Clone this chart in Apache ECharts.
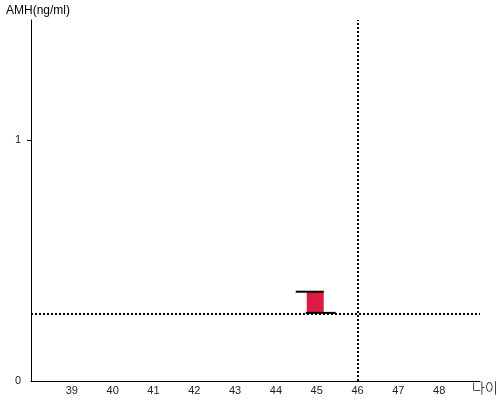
<!DOCTYPE html>
<html>
<head>
<meta charset="utf-8">
<script src="https://cdn.jsdelivr.net/npm/echarts@6/dist/echarts.min.js"></script>
<style>html,body{margin:0;padding:0;background:#fff}#c{width:500px;height:400px}</style>
</head>
<body>
<div id="c"></div>
<script>
// Data
var ages = [45];
var amhLow = [0.283];
var amhHigh = [0.371];
var refAge = 46;
var refAmh = 0.283;
var xTickLabels = [39, 40, 41, 42, 43, 44, 45, 46, 47, 48];
var yTickLabels = [0, 1];

var chart = echarts.init(document.getElementById('c'), null, {renderer: 'canvas'});
var data = ages.map(function (a, i) { return [a, amhLow[i], amhHigh[i]]; });

chart.setOption({
  animation: false,
  grid: {left: 31, right: 20, top: 20, bottom: 19, containLabel: false, outerBoundsMode: 'none'},
  xAxis: {
    type: 'value', min: 38, max: 49, interval: 1,
    name: '나이', nameLocation: 'end', nameGap: -8,
    nameTextStyle: {fontFamily: 'Noto Sans CJK KR', fontSize: 14, color: '#000', align: 'left', verticalAlign: 'top', padding: [0, 0, 0, 0], fontWeight: 300},
    axisLine: {lineStyle: {color: '#000', width: 1}},
    axisTick: {show: false},
    splitLine: {show: false},
    axisLabel: {customValues: xTickLabels, margin: 4, color: '#222', fontSize: 11, fontFamily: 'Liberation Sans'}
  },
  yAxis: {
    type: 'value', min: 0, max: 1.5, interval: 0.5,
    name: 'AMH(ng/ml)', nameLocation: 'end', nameGap: 3,
    nameTextStyle: {fontFamily: 'Liberation Sans', fontSize: 12, color: '#000', align: 'center', padding: [0, 0, 0, 14]},
    axisLine: {show: true, lineStyle: {color: '#000', width: 1}},
    axisTick: {show: true, customValues: [1], length: 4, lineStyle: {color: '#000'}},
    splitLine: {show: false},
    axisLabel: {customValues: yTickLabels, margin: 10, color: '#222', fontSize: 11, fontFamily: 'Liberation Sans'}
  },
  series: [{
    type: 'line',
    data: [],
    z: 1,
    markLine: {
      silent: true,
      z: 1,
      symbol: 'none',
      label: {show: false},
      lineStyle: {color: '#000', type: 'dotted', width: 2},
      data: [{xAxis: refAge}, {yAxis: refAmh}]
    }
  }, {
    type: 'custom',
    data: data,
    z: 5,
    renderItem: function (params, api) {
      var lo = api.coord([api.value(0), api.value(1)]);
      var hi = api.coord([api.value(0), api.value(2)]);
      var cx = lo[0] - 1;
      return {
        type: 'group',
        children: [
          {type: 'rect', shape: {x: cx - 9, y: hi[1], width: 17, height: lo[1] - hi[1]}, style: {fill: '#dc1a44'}},
          {type: 'line', shape: {x1: cx - 20, y1: hi[1], x2: cx + 8, y2: hi[1]}, style: {stroke: '#000', lineWidth: 2}},
          {type: 'line', shape: {x1: cx - 10, y1: lo[1], x2: cx + 20, y2: lo[1]}, style: {stroke: '#000', lineWidth: 2}}
        ]
      };
    }
  }]
});
</script>
</body>
</html>
